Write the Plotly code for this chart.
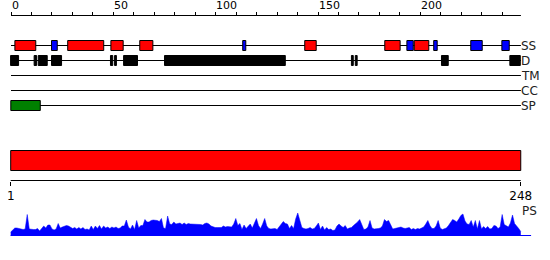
import plotly.graph_objects as go

# ---------------- data ----------------
ruler_ticks = list(range(0, 250, 10))
ruler_labels = [0, 50, 100, 150, 200]
ruler_end = 249.1

track_names = ["SS", "D", "TM", "CC", "SP"]

ss_start = [1.9, 19.8, 27.7, 48.8, 62.9, 113.2, 143.5, 182.6, 193.4, 197.0, 206.5, 224.6, 239.8]
ss_end = [12.1, 22.6, 45.3, 54.8, 69.3, 114.7, 149.1, 190.1, 196.5, 204.1, 208.2, 230.2, 243.4]
ss_type = ["H", "E", "H", "H", "H", "E", "H", "H", "E", "H", "E", "E", "E"]

dis_start = [-0.2, 11.3, 13.3, 19.8, 48.6, 50.6, 55.0, 75.0, 166.3, 168.2, 210.3, 243.7]
dis_end = [3.7, 12.5, 17.7, 24.7, 49.7, 51.5, 61.8, 134.0, 167.2, 169.1, 213.6, 248.8]

tm_start, tm_end = [], []
cc_start, cc_end = [], []
sp_start = [-0.1]
sp_end = [14.3]

seq_len = 248
domain_start = [1]
domain_end = [248]
axis2_ticks = [1, 248]
axis2_labels = ["1", "248"]

ps_values = [
    4, 6.5, 8, 8, 7.5, 7, 6.5, 7, 21.5, 7,
    6.5, 6.5, 6.5, 7.5, 5, 7.5, 10, 8, 11, 11,
    7, 6, 7, 12.5, 8, 9, 9.5, 10.5, 10, 9,
    7.5, 8.5, 7, 8.5, 7, 8.5, 6.5, 7, 6, 10,
    6.5, 10, 7.5, 10.5, 7, 10, 8, 9, 7.5, 9,
    8, 9, 7.5, 8, 10, 10, 16, 9, 7, 11,
    6.5, 15.5, 8, 10.5, 10.5, 16.5, 14, 14, 15.5, 16,
    16, 15.5, 14.5, 17.5, 8, 7.5, 20, 12, 11.5, 14,
    12, 12.5, 13, 11.5, 13, 11.5, 12.5, 12, 12, 12,
    11.5, 11.5, 11.5, 11, 12.5, 13, 12, 10, 9, 8.5,
    8.5, 8.5, 8.5, 10, 9, 9.5, 9.5, 9, 12, 17.5,
    10.5, 12.5, 6.5, 11, 7.5, 10, 12, 8, 12, 17.5,
    10.5, 7.5, 12, 17.5, 10, 7.5, 7, 7.5, 7.5, 6.5,
    9, 12, 14.5, 12.5, 12, 7.5, 10.5, 7.5, 17, 23,
    15, 8.5, 7.5, 7, 7.5, 8.5, 7, 7.5, 10, 13,
    6.5, 10, 6, 8.5, 6.5, 7, 5.5, 6, 10, 12,
    10, 8.5, 10.5, 7, 8, 8.5, 10.5, 12, 14, 16.5,
    11, 6.5, 7, 9, 15.5, 8, 7, 7, 7.5, 8,
    10, 16.5, 14.5, 15.5, 10.5, 7, 7.5, 8,
    8, 9, 8, 7.5, 8, 8.5, 6.5, 7.5, 6.5, 7.5, 7, 8,
    9, 12, 15.5, 10.5, 7.5, 7.5, 10, 15.5, 8, 6.5,
    7, 8, 10.5, 13.5, 16.5, 15.5, 14, 17, 20.5, 22,
    15, 12, 11.5, 15.5, 9, 15.5, 7, 15.5, 7, 9.5,
    7.5, 9.5, 7, 7.5, 10.5, 10, 7.5, 9, 21.5, 11.5,
    10, 9, 13, 21, 12.5, 10.5, 7.5, 4.5,
]
ps_pos = list(range(1, seq_len + 1))

# ---------------- layout constants ----------------
W, H = 550, 260
FONT = "DejaVu Sans"
track_y = [45.5, 60.5, 75.5, 90.5, 105.5]
half_h = 5
ruler_y = 15.5
axis2_y = 180.5
bar_top, bar_bot = 150.5, 170.5
ps_base_px = 236

# top scale: px = 11 + 2.047*u ; bottom scale: px = 10.7 + 2.065*(r-1)
x1_range = [-11 / 2.047, (W - 11) / 2.047]
x2_range = [1 - 10.7 / 2.065, 1 + (W - 10.7) / 2.065]

fig = go.Figure()

# track base lines
lx, ly = [], []
for ty in track_y:
    lx += [0, ruler_end, None]
    ly += [ty, ty, None]
fig.add_trace(go.Scatter(x=lx, y=ly, mode="lines", line=dict(color="black", width=1),
                         hoverinfo="skip", showlegend=False, xaxis="x", yaxis="y"))

shapes = []
# ruler line
shapes.append(dict(type="line", xref="x", yref="y", x0=0, x1=ruler_end, y0=ruler_y, y1=ruler_y,
                   line=dict(color="black", width=1)))


def box(x0, x1, yc, fill, xref="x"):
    return dict(type="rect", xref=xref, yref="y", x0=x0, x1=x1, y0=yc - half_h, y1=yc + half_h,
                fillcolor=fill, line=dict(color="black", width=1), layer="above")


ss_colors = {"H": "#ff0000", "E": "#0000ff"}
for s, e, t in zip(ss_start, ss_end, ss_type):
    shapes.append(box(s, e, track_y[0], ss_colors[t]))
for s, e in zip(dis_start, dis_end):
    shapes.append(box(s, e, track_y[1], "#000000"))
for s, e in zip(tm_start, tm_end):
    shapes.append(box(s, e, track_y[2], "#ffff00"))
for s, e in zip(cc_start, cc_end):
    shapes.append(box(s, e, track_y[3], "#ff00ff"))
for s, e in zip(sp_start, sp_end):
    shapes.append(box(s, e, track_y[4], "#008000"))

# domain bar
for s, e in zip(domain_start, domain_end):
    shapes.append(dict(type="rect", xref="x2", yref="y", x0=s, x1=e, y0=bar_top, y1=bar_bot,
                       fillcolor="#ff0000", line=dict(color="black", width=1)))
# bottom ruler line
shapes.append(dict(type="line", xref="x2", yref="y", x0=axis2_ticks[0], x1=axis2_ticks[-1],
                   y0=axis2_y, y1=axis2_y, line=dict(color="black", width=1)))
# PS baseline
shapes.append(dict(type="line", xref="x2", yref="y2", x0=ps_pos[0], x1=253, y0=0.5, y1=0.5,
                   line=dict(color="#0000ff", width=1)))

# PS profile
fig.add_trace(go.Scatter(x=ps_pos, y=ps_values, mode="lines", fill="tozeroy",
                         fillcolor="#0000ff", line=dict(color="#0000ff", width=0.5),
                         hoverinfo="skip", showlegend=False, xaxis="x2", yaxis="y2"))

annotations = []
for v in ruler_labels:
    annotations.append(dict(x=v, y=5.5, xref="x", yref="y", text=str(v), showarrow=False,
                            xanchor="left", yanchor="middle", xshift=-1.5,
                            font=dict(family=FONT, size=11, color="black")))
for name, ty in zip(track_names, track_y):
    annotations.append(dict(x=ruler_end, y=ty, xref="x", yref="y", text=name, showarrow=False,
                            xanchor="left", yanchor="middle", xshift=-1.5,
                            font=dict(family=FONT, size=12, color="#222")))
annotations.append(dict(x=ruler_end, y=210.5, xref="x", yref="y", text="PS", showarrow=False,
                        xanchor="left", yanchor="middle", xshift=-1,
                        font=dict(family=FONT, size=12, color="#222")))

fig.update_layout(
    width=W, height=H, margin=dict(l=0, r=0, t=0, b=0, pad=0),
    paper_bgcolor="white", plot_bgcolor="white", showlegend=False,
    shapes=shapes, annotations=annotations,
    xaxis=dict(domain=[0, 1], range=x1_range, side="top", anchor="free",
               position=(H - ruler_y) / H, tickmode="array", tickvals=ruler_ticks,
               ticks="outside", ticklen=4, tickwidth=1, tickcolor="black",
               showticklabels=False, showline=False, showgrid=False, zeroline=False, fixedrange=True),
    xaxis2=dict(domain=[0, 1], range=x2_range, side="bottom", anchor="free",
                position=(H - axis2_y) / H, tickmode="array", tickvals=axis2_ticks,
                ticktext=axis2_labels, ticks="outside", ticklen=4, tickwidth=1, tickcolor="black",
                tickfont=dict(family=FONT, size=12, color="black"),
                showline=False, showgrid=False, zeroline=False, fixedrange=True),
    yaxis=dict(domain=[0, 1], range=[H, 0], visible=False, fixedrange=True),
    yaxis2=dict(domain=[(H - ps_base_px) / H, (H - ps_base_px + 25) / H], range=[0, 25],
                anchor="x2", visible=False, fixedrange=True),
)

fig.write_html("out.html")
